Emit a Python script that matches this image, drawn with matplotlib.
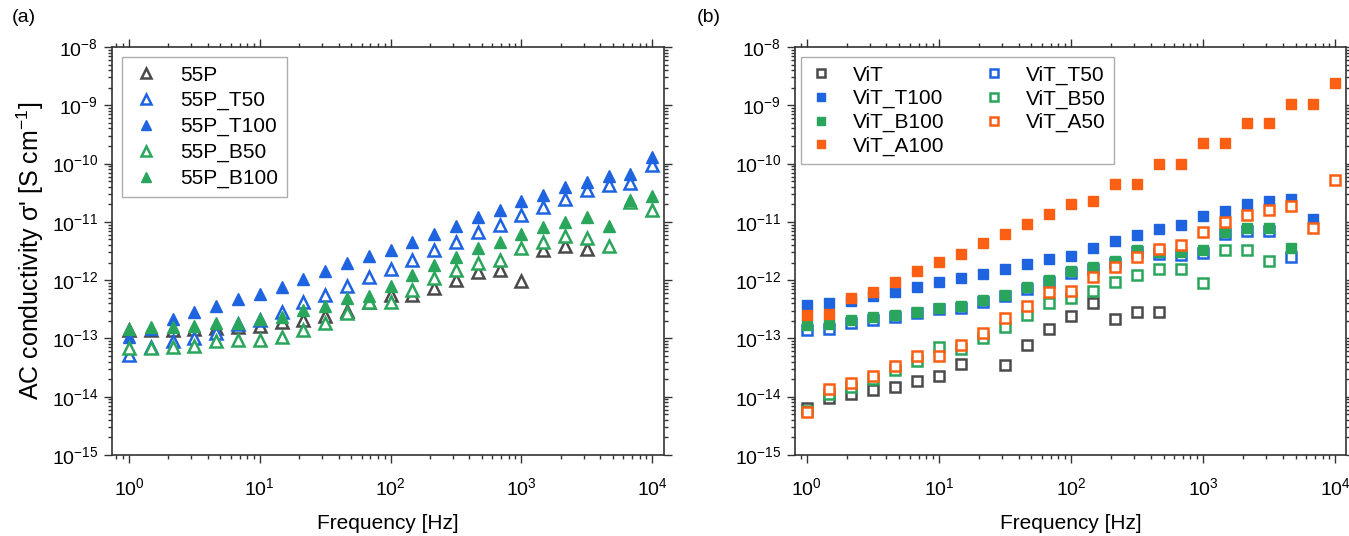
import numpy as np
import matplotlib
matplotlib.use("Agg")
import matplotlib.pyplot as plt
from matplotlib.ticker import LogLocator, NullFormatter

plt.rcParams['font.family'] = ['Liberation Sans', 'DejaVu Sans']
plt.rcParams['mathtext.fontset'] = 'custom'
plt.rcParams['mathtext.rm'] = 'Liberation Sans'
plt.rcParams['mathtext.it'] = 'Liberation Sans:italic'

nan = np.nan

# frequencies [Hz], six points per decade
freq = [1.0, 1.468, 2.154, 3.162, 4.642, 6.813, 10.0, 14.68, 21.54, 31.62, 46.42, 68.13,
        100.0, 146.8, 215.4, 316.2, 464.2, 681.3, 1000.0, 1468.0, 2154.0, 3162.0,
        4642.0, 6813.0, 10000.0]

# ---- panel (a) : AC conductivity [S/cm]
p55 = [1.41e-13, 1.41e-13, 1.41e-13, 1.48e-13, 1.51e-13, 1.58e-13, 1.66e-13, 1.91e-13,
       2.09e-13, 2.45e-13, 2.95e-13, 4.17e-13, 5.62e-13, 5.62e-13, 7.24e-13, 1.00e-12,
       1.38e-12, 1.51e-12, 9.55e-13, 3.31e-12, 3.89e-12, 3.39e-12]
p55_t50 = [5.25e-14, 7.08e-14, 8.91e-14, 1.00e-13, 1.23e-13, 1.78e-13, 2.09e-13, 2.88e-13,
           4.17e-13, 5.62e-13, 7.94e-13, 1.15e-12, 1.55e-12, 2.24e-12, 3.31e-12, 4.57e-12,
           6.76e-12, 8.91e-12, 1.32e-11, 1.82e-11, 2.51e-11, 3.55e-11, 4.27e-11, 4.57e-11,
           9.55e-11]
p55_t100 = [1.07e-13, 1.48e-13, 2.14e-13, 2.88e-13, 3.63e-13, 4.68e-13, 5.89e-13, 7.76e-13,
            1.05e-12, 1.45e-12, 1.95e-12, 2.63e-12, 3.31e-12, 4.57e-12, 6.31e-12, 8.51e-12,
            1.20e-11, 1.58e-11, 2.24e-11, 2.88e-11, 3.89e-11, 4.90e-11, 6.03e-11, 6.61e-11,
            1.32e-10]
p55_b50 = [6.76e-14, 6.76e-14, 7.24e-14, 7.41e-14, 8.91e-14, 9.55e-14, 9.55e-14, 1.07e-13,
           1.41e-13, 1.82e-13, 2.69e-13, 4.27e-13, 4.27e-13, 6.76e-13, 1.07e-12, 1.51e-12,
           2.00e-12, 2.24e-12, 3.63e-12, 4.57e-12, 5.62e-12, 5.25e-12, 3.89e-12, 2.19e-11,
           1.58e-11]
p55_b100 = [1.48e-13, 1.55e-13, 1.55e-13, 1.66e-13, 1.82e-13, 1.86e-13, 2.14e-13, 2.29e-13,
            3.02e-13, 3.63e-13, 4.90e-13, 5.37e-13, 7.94e-13, 1.23e-12, 1.82e-12, 2.51e-12,
            3.55e-12, 4.57e-12, 6.31e-12, 8.13e-12, 9.77e-12, 1.20e-11, 8.51e-12, 2.40e-11,
            2.75e-11]

# ---- panel (b)
vit = [6.31e-15, 9.55e-15, 1.12e-14, 1.29e-14, 1.45e-14, 1.86e-14, 2.29e-14, 3.63e-14,
       nan, 3.55e-14, 7.76e-14, 1.45e-13, 2.45e-13, 4.07e-13, 2.14e-13, 2.88e-13, 2.88e-13]
vit_t100 = [3.72e-13, 4.07e-13, 4.47e-13, 5.25e-13, 6.31e-13, 7.76e-13, 9.12e-13, 1.07e-12,
            1.29e-12, 1.55e-12, 1.91e-12, 2.29e-12, 2.63e-12, 3.63e-12, 4.68e-12, 6.03e-12,
            7.59e-12, 8.91e-12, 1.26e-11, 1.55e-11, 2.04e-11, 2.29e-11, 2.51e-11, 1.10e-11]
vit_b100 = [1.70e-13, 1.74e-13, 2.04e-13, 2.29e-13, 2.51e-13, 2.88e-13, 3.39e-13, 3.63e-13,
            4.57e-13, 5.62e-13, 7.59e-13, 1.00e-12, 1.41e-12, 1.66e-12, 2.09e-12, 3.24e-12,
            3.02e-12, 3.09e-12, 3.31e-12, 6.76e-12, 7.76e-12, 7.76e-12, 3.55e-12]
vit_a100 = [2.51e-13, 2.63e-13, 4.90e-13, 6.31e-13, 9.33e-13, 1.41e-12, 2.04e-12, 2.82e-12,
            4.37e-12, 6.17e-12, 9.12e-12, 1.35e-11, 2.04e-11, 2.24e-11, 4.47e-11, 4.47e-11,
            1.00e-10, 1.00e-10, 2.24e-10, 2.24e-10, 4.90e-10, 4.90e-10, 1.07e-09, 1.07e-09,
            2.45e-09]
vit_t50 = [1.38e-13, 1.45e-13, 1.86e-13, 2.09e-13, 2.29e-13, 2.69e-13, 3.16e-13, 3.39e-13,
           4.27e-13, 5.25e-13, 7.08e-13, 9.33e-13, 1.32e-12, 1.55e-12, 1.95e-12, 3.02e-12,
           2.82e-12, 2.75e-12, 2.88e-12, 6.17e-12, 7.08e-12, 7.08e-12, 2.51e-12]
vit_b50 = [5.62e-15, 1.12e-14, 1.48e-14, 2.00e-14, 2.82e-14, 4.17e-14, 7.24e-14, 6.61e-14,
           1.00e-13, 1.58e-13, 2.51e-13, 4.07e-13, 5.01e-13, 6.46e-13, 9.33e-13, 1.23e-12,
           1.58e-12, 1.58e-12, 8.91e-13, 3.31e-12, 3.31e-12, 2.09e-12]
vit_a50 = [5.37e-15, 1.35e-14, 1.70e-14, 2.29e-14, 3.31e-14, 5.01e-14, 4.90e-14, 7.76e-14,
           1.26e-13, 2.24e-13, 3.63e-13, 6.17e-13, 6.61e-13, 1.12e-12, 1.70e-12, 2.45e-12,
           3.47e-12, 4.07e-12, 6.76e-12, 1.00e-11, 1.32e-11, 1.58e-11, 1.86e-11, 7.76e-12,
           5.25e-11]

GREY = '#4a4a4a'
BLUE = '#1e64e0'
GREEN = '#2aa65c'
ORANGE = '#fa5f14'

W, H = 1349, 536
fig = plt.figure(figsize=(W / 100, H / 100), dpi=100)
ax_a = fig.add_axes([112 / W, 1 - 455 / H, 552 / W, 408 / H])
ax_b = fig.add_axes([795 / W, 1 - 455 / H, 551 / W, 408 / H])


def pts(ax, y, marker, color, filled, label, ms):
    x = freq[:len(y)]
    if filled:
        h, = ax.plot(x, y, ls='none', marker=marker, ms=ms, mfc=color, mec=color,
                     mew=1.0, label=label)
    else:
        h, = ax.plot(x, y, ls='none', marker=marker, ms=ms - 0.8, mfc='white', mec=color,
                     mew=1.8, label=label)
    return h


# panel (a)
ha = [pts(ax_a, p55, '^', GREY, False, '55P', 9),
      pts(ax_a, p55_t50, '^', BLUE, False, '55P_T50', 9),
      pts(ax_a, p55_t100, '^', BLUE, True, '55P_T100', 9),
      pts(ax_a, p55_b50, '^', GREEN, False, '55P_B50', 9),
      pts(ax_a, p55_b100, '^', GREEN, True, '55P_B100', 9)]

# panel (b)
h_vit = pts(ax_b, vit, 's', GREY, False, 'ViT', 7.5)
h_t50 = pts(ax_b, vit_t50, 's', BLUE, False, 'ViT_T50', 7.5)
h_t100 = pts(ax_b, vit_t100, 's', BLUE, True, 'ViT_T100', 7.5)
h_b100 = pts(ax_b, vit_b100, 's', GREEN, True, 'ViT_B100', 7.5)
h_a100 = pts(ax_b, vit_a100, 's', ORANGE, True, 'ViT_A100', 7.5)
h_b50 = pts(ax_b, vit_b50, 's', GREEN, False, 'ViT_B50', 7.5)
h_a50 = pts(ax_b, vit_a50, 's', ORANGE, False, 'ViT_A50', 7.5)
hb = [h_vit, h_t100, h_b100, h_a100, h_t50, h_b50, h_a50]

for ax, xl in ((ax_a, (10 ** -0.13, 10 ** 4.09)), (ax_b, (10 ** -0.09, 10 ** 4.08))):
    ax.set_xscale('log')
    ax.set_yscale('log')
    ax.set_xlim(*xl)
    ax.set_ylim(1e-15, 1e-8)
    ax.xaxis.set_major_locator(LogLocator(base=10, numticks=10))
    ax.xaxis.set_minor_locator(LogLocator(base=10, subs=np.arange(2, 10), numticks=20))
    ax.xaxis.set_minor_formatter(NullFormatter())
    ax.yaxis.set_major_locator(LogLocator(base=10, numticks=10))
    ax.yaxis.set_minor_locator(LogLocator(base=10, subs=np.arange(2, 10), numticks=20))
    ax.yaxis.set_minor_formatter(NullFormatter())
    ax.tick_params(which='both', direction='out', top=True, right=True, width=1.0,
                   color='#333333', labelsize=14)
    ax.tick_params(which='major', length=6)
    ax.tick_params(which='minor', length=3)
    ax.tick_params(axis='x', which='major', pad=10)
    ax.tick_params(axis='y', which='major', pad=4)
    for s in ax.spines.values():
        s.set_linewidth(1.2)
        s.set_color('#333333')
    ax.set_xlabel('Frequency [Hz]', fontsize=15, labelpad=11)

ax_a.set_ylabel("AC conductivity σ' [S cm$^{-1}$]", fontsize=18, labelpad=4)

leg_a = ax_a.legend(handles=ha, loc='upper left', bbox_to_anchor=(0.018, 0.975),
                    borderaxespad=0, fontsize=15, frameon=True, fancybox=False,
                    edgecolor='#999999', handlelength=1.5, handletextpad=0.9,
                    labelspacing=0.32, borderpad=0.4, markerscale=0.85)
leg_a.get_frame().set_linewidth(1.0)

leg_b = ax_b.legend(handles=hb, loc='upper left', bbox_to_anchor=(0.01, 0.975), ncol=2,
                    borderaxespad=0, fontsize=15, frameon=True, fancybox=False,
                    edgecolor='#999999', handlelength=1.2, handletextpad=0.9,
                    labelspacing=0.22, borderpad=0.4, columnspacing=1.8,
                    markerscale=0.85)
leg_b.get_frame().set_linewidth(1.0)

fig.text(12 / W, 1 - 18 / H, '(a)', fontsize=14, va='center', ha='left')
fig.text(697 / W, 1 - 18 / H, '(b)', fontsize=14, va='center', ha='left')

fig.savefig('out.png', dpi=100)
